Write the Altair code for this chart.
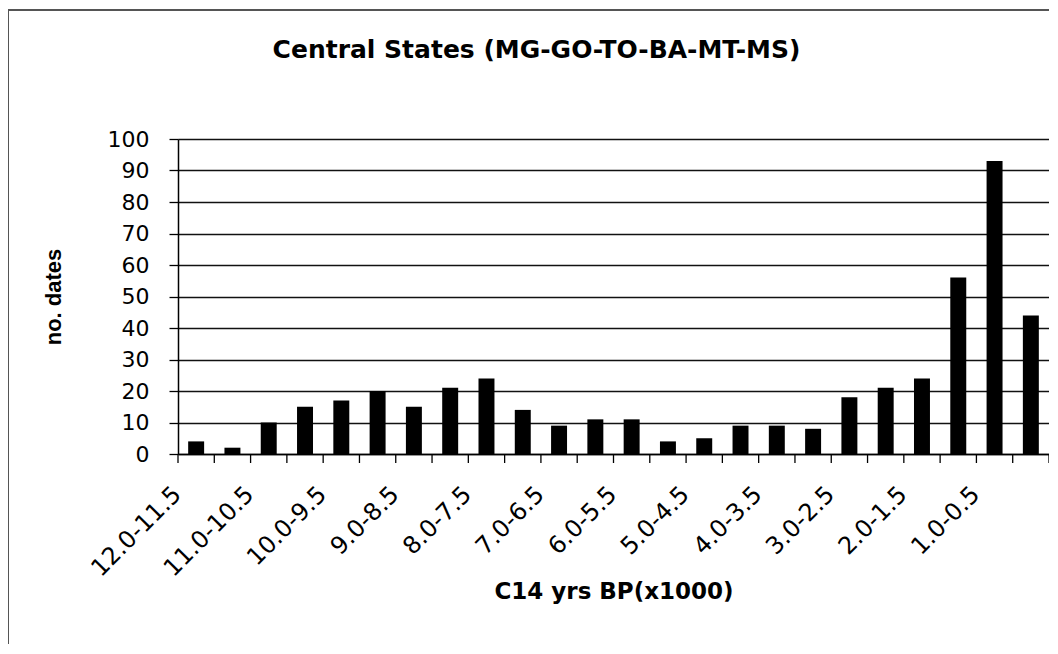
import altair as alt
import pandas as pd

categories = ["12.0-11.5", "11.5-11.0", "11.0-10.5", "10.5-10.0", "10.0-9.5", "9.5-9.0",
              "9.0-8.5", "8.5-8.0", "8.0-7.5", "7.5-7.0", "7.0-6.5", "6.5-6.0",
              "6.0-5.5", "5.5-5.0", "5.0-4.5", "4.5-4.0", "4.0-3.5", "3.5-3.0",
              "3.0-2.5", "2.5-2.0", "2.0-1.5", "1.5-1.0", "1.0-0.5", "0.5-0.0"]
counts = [4, 2, 10, 15, 17, 20, 15, 21, 24, 14, 9, 11,
          11, 4, 5, 9, 9, 8, 18, 21, 24, 56, 93, 44]
y_ticks = [0, 10, 20, 30, 40, 50, 60, 70, 80, 90, 100]

df = pd.DataFrame({"period": categories, "dates": counts})

FONT = "DejaVu Sans"
W, H = 871, 315
xscale = alt.Scale(paddingInner=0, paddingOuter=0)

bars = alt.Chart(df).mark_bar(color="black", width=alt.RelativeBandSize(0.44)).encode(
    x=alt.X("period:N", sort=categories, scale=xscale,
            axis=alt.Axis(
                title="C14 yrs BP(x1000)", orient="bottom",
                labelAngle=-45, labelAlign="right", labelBaseline="top",
                labelOverlap=False, labelFontSize=24, labelFont=FONT,
                labelColor="black", labelPadding=28, labelOffset=-27,
                labelExpr="slice(datum.value, indexof(datum.value, '-') - 2, indexof(datum.value, '-')) == '.0' ? datum.value : ''",
                ticks=False, domainColor="black", domainWidth=1.5, grid=False,
                titleFont=FONT, titleFontSize=23, titleFontWeight="bold",
                titleColor="black", titlePadding=0,
            )),
    y=alt.Y("dates:Q", scale=alt.Scale(domain=[0, 100]),
            axis=alt.Axis(
                title="no. dates", values=y_ticks,
                labelFontSize=22, labelFont=FONT, labelColor="black", labelPadding=20,
                tickSize=9, tickColor="black", tickWidth=1.3,
                domainColor="black", domainWidth=1.5,
                grid=True, gridColor="#111", gridWidth=1.5,
                titleFont="Liberation Sans", titleFontSize=22, titleFontWeight="bold",
                titleColor="black", titlePadding=42,
            )),
)

xticks = alt.Chart(df).mark_rule(color="black", strokeWidth=1.3).encode(
    x=alt.X("period:N", sort=categories, scale=xscale, bandPosition=0),
    y=alt.value(H), y2=alt.value(H + 9),
)
xtick_end = alt.Chart(df).transform_filter(
    alt.datum.period == categories[-1]
).mark_rule(color="black", strokeWidth=1.3).encode(
    x=alt.X("period:N", sort=categories, scale=xscale, bandPosition=1),
    y=alt.value(H), y2=alt.value(H + 9),
)

frame = alt.Chart(df).mark_rect(fill=None, stroke="#555", strokeWidth=1.5).encode(
    x=alt.value(-170), x2=alt.value(W + 300), y=alt.value(-129), y2=alt.value(H + 400)
)

chart = alt.layer(frame, bars, xticks, xtick_end).properties(
    width=W, height=H,
    title=alt.TitleParams("Central States (MG-GO-TO-BA-MT-MS)", font=FONT, fontSize=25,
                          fontWeight="bold", color="black", anchor="middle",
                          dx=-77, offset=-54),
    autosize=alt.AutoSizeParams(type="none"),
    padding={"left": 170, "top": 131, "right": 0, "bottom": 190},
).configure_view(stroke="black", strokeWidth=1.5).configure(background="white")

chart.save("out.html", embed_options={"renderer": "svg", "actions": False})
